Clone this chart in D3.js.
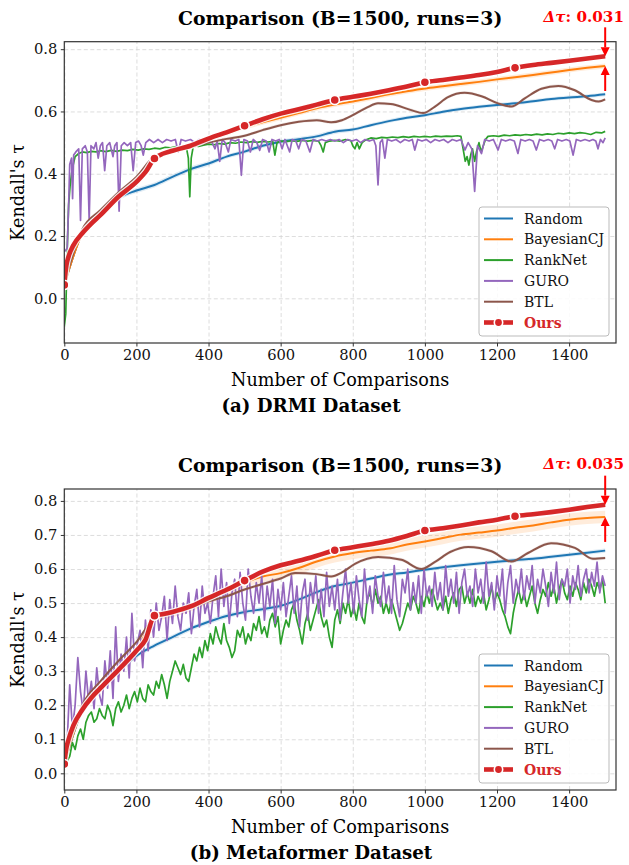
<!DOCTYPE html>
<html>
<head>
  <meta charset="utf-8">
  <script src="https://d3js.org/d3.v7.min.js"></script>
  <style>
    body { margin: 0; background: #fff; }
    text { font-family: "DejaVu Serif", serif; }
    .grid line { stroke: #d4d4d4; stroke-dasharray: 4,2.5; stroke-width: 0.8; }
    .grid .domain { stroke: none; }
    .axis .domain { stroke: none; }
    .axis line { stroke: #333; stroke-width: 1; }
    .axis text { font-size: 14.7px; fill: #111; }
  </style>
</head>
<body>
<svg id="svg" width="629" height="865"></svg>
<script>
// ---------------- data ----------------
const xTicks = [0, 200, 400, 600, 800, 1000, 1200, 1400];
const yTicksA = [0.0, 0.2, 0.4, 0.6, 0.8];
const yTicksB = [0.0, 0.1, 0.2, 0.3, 0.4, 0.5, 0.6, 0.7, 0.8];
const methods = ["Random", "BayesianCJ", "RankNet", "GURO", "BTL", "Ours"];
const markerSteps = [0, 250, 500, 750, 1000, 1250];
const titleText = "Comparison (B=1500, runs=3)";
const captions = ["(a) DRMI Dataset", "(b) Metaformer Dataset"];
const deltas = ["0.031", "0.035"];

// [comparisons, mean tau, std]
const randomA = [[0,0.043,0.01],[50,0.21,0.01],[100,0.268,0.008],[150,0.322,0.008],[200,0.346,0.008],[250,0.364,0.008],[300,0.39,0.008],[350,0.415,0.008],[400,0.433,0.008],[450,0.455,0.007],[500,0.471,0.007],[550,0.49,0.007],[600,0.503,0.007],[650,0.511,0.007],[700,0.52,0.007],[750,0.535,0.007],[800,0.542,0.006],[850,0.556,0.006],[900,0.569,0.006],[950,0.58,0.006],[1000,0.588,0.006],[1050,0.599,0.006],[1100,0.608,0.006],[1150,0.615,0.006],[1200,0.621,0.006],[1250,0.626,0.006],[1300,0.633,0.006],[1350,0.64,0.006],[1400,0.645,0.006],[1450,0.649,0.006],[1500,0.655,0.006]];
const bayesA = [[0,0.043,0.01],[50,0.209,0.01],[100,0.267,0.008],[150,0.325,0.008],[200,0.372,0.008],[250,0.445,0.008],[300,0.473,0.008],[350,0.488,0.008],[400,0.51,0.008],[450,0.53,0.008],[500,0.55,0.008],[550,0.565,0.008],[600,0.58,0.008],[650,0.595,0.008],[700,0.61,0.008],[750,0.622,0.008],[800,0.632,0.008],[850,0.643,0.008],[900,0.655,0.008],[950,0.665,0.008],[1000,0.674,0.008],[1050,0.681,0.008],[1100,0.688,0.008],[1150,0.695,0.008],[1200,0.703,0.008],[1250,0.71,0.008],[1300,0.717,0.008],[1350,0.725,0.008],[1400,0.733,0.008],[1450,0.74,0.008],[1500,0.746,0.008]];
const rankA = [[0,-0.09],[4,-0.05],[8,0.15],[12,0.3],[16,0.36],[20,0.4],[25,0.43],[30,0.455],[40,0.465],[50,0.47],[62,0.468],[75,0.472],[88,0.47],[100,0.474],[115,0.471],[130,0.475],[145,0.472],[160,0.476],[175,0.474],[190,0.478],[205,0.476],[220,0.48],[235,0.478],[250,0.482],[265,0.48],[280,0.485],[295,0.483],[310,0.487],[325,0.485],[338,0.488],[344,0.45],[348,0.326],[352,0.45],[358,0.49],[372,0.488],[386,0.492],[400,0.495],[415,0.493],[430,0.497],[445,0.495],[460,0.5],[475,0.498],[490,0.502],[505,0.5],[520,0.503],[535,0.501],[550,0.504],[565,0.502],[578,0.504],[584,0.46],[590,0.5],[600,0.505],[615,0.503],[630,0.506],[645,0.504],[660,0.507],[675,0.505],[690,0.507],[705,0.505],[712,0.49],[718,0.47],[724,0.5],[735,0.505],[750,0.507],[765,0.505],[780,0.51],[795,0.506],[800,0.49],[806,0.48],[812,0.5],[818,0.48],[826,0.5],[835,0.508],[850,0.515],[865,0.513],[880,0.517],[895,0.515],[910,0.518],[925,0.516],[940,0.519],[955,0.517],[970,0.52],[985,0.518],[1000,0.52],[1015,0.518],[1030,0.521],[1045,0.519],[1060,0.521],[1075,0.52],[1090,0.522],[1100,0.52],[1106,0.48],[1112,0.44],[1117,0.455],[1122,0.428],[1127,0.46],[1132,0.48],[1138,0.44],[1143,0.47],[1150,0.5],[1156,0.47],[1162,0.49],[1168,0.51],[1175,0.52],[1190,0.522],[1205,0.52],[1220,0.524],[1235,0.522],[1250,0.525],[1265,0.523],[1280,0.526],[1295,0.524],[1310,0.527],[1325,0.525],[1340,0.528],[1355,0.526],[1370,0.53],[1385,0.528],[1400,0.531],[1415,0.529],[1430,0.532],[1445,0.53],[1460,0.526],[1475,0.533],[1490,0.531],[1500,0.536]];
const guroA = [[0,0.15],[8,0.16],[12,0.3],[15,0.43],[20,0.45],[23,0.32],[26,0.46],[32,0.47],[40,0.48],[45,0.25],[50,0.48],[58,0.49],[64,0.47],[69,0.25],[74,0.49],[82,0.48],[88,0.5],[94,0.45],[100,0.49],[106,0.5],[112,0.41],[118,0.49],[126,0.5],[135,0.455],[140,0.49],[146,0.5],[152,0.28],[158,0.49],[166,0.5],[175,0.49],[184,0.5],[191,0.41],[198,0.5],[206,0.505],[213,0.49],[219,0.46],[226,0.5],[236,0.51],[248,0.5],[260,0.51],[272,0.5],[284,0.51],[296,0.505],[308,0.51],[316,0.47],[324,0.51],[336,0.505],[350,0.51],[362,0.5],[374,0.51],[386,0.505],[398,0.51],[410,0.5],[418,0.48],[424,0.505],[431,0.44],[438,0.51],[446,0.5],[455,0.47],[462,0.51],[474,0.505],[484,0.51],[491,0.395],[498,0.51],[508,0.505],[516,0.47],[524,0.51],[534,0.5],[542,0.475],[550,0.51],[560,0.505],[568,0.47],[576,0.51],[586,0.505],[596,0.51],[604,0.48],[612,0.51],[625,0.47],[632,0.51],[642,0.505],[650,0.48],[658,0.51],[670,0.505],[681,0.47],[690,0.51],[702,0.505],[714,0.51],[726,0.505],[738,0.51],[750,0.505],[762,0.51],[774,0.5],[786,0.51],[798,0.505],[810,0.51],[822,0.5],[834,0.51],[846,0.505],[858,0.51],[864,0.49],[870,0.364],[876,0.5],[882,0.51],[889,0.45],[896,0.51],[908,0.505],[920,0.51],[932,0.5],[944,0.51],[956,0.505],[965,0.51],[972,0.476],[980,0.51],[992,0.505],[1004,0.51],[1016,0.5],[1028,0.51],[1040,0.505],[1052,0.51],[1064,0.5],[1076,0.51],[1088,0.505],[1100,0.51],[1111,0.476],[1120,0.5],[1130,0.48],[1138,0.343],[1146,0.49],[1157,0.465],[1166,0.51],[1178,0.505],[1190,0.51],[1203,0.476],[1212,0.51],[1224,0.505],[1236,0.51],[1248,0.505],[1258,0.465],[1266,0.51],[1278,0.505],[1290,0.51],[1300,0.505],[1309,0.476],[1318,0.51],[1330,0.505],[1342,0.51],[1352,0.505],[1360,0.48],[1368,0.51],[1380,0.505],[1392,0.51],[1402,0.505],[1411,0.46],[1420,0.51],[1432,0.505],[1444,0.51],[1456,0.505],[1466,0.51],[1474,0.505],[1480,0.48],[1487,0.51],[1494,0.5],[1500,0.515]];
const btlA = [[0,0.05,0.005],[50,0.222,0.005],[100,0.283,0.005],[150,0.34,0.005],[200,0.39,0.005],[250,0.455,0.005],[300,0.47,0.005],[350,0.485,0.005],[400,0.5,0.005],[450,0.512,0.005],[500,0.522,0.005],[550,0.54,0.005],[600,0.556,0.005],[650,0.567,0.005],[700,0.572,0.005],[740,0.565,0.005],[770,0.572,0.005],[800,0.588,0.005],[840,0.613,0.005],[870,0.626,0.005],[905,0.624,0.005],[960,0.605,0.005],[995,0.595,0.005],[1027,0.615,0.005],[1064,0.646,0.005],[1110,0.66,0.005],[1157,0.649,0.005],[1203,0.626,0.005],[1240,0.616,0.005],[1277,0.642,0.005],[1323,0.673,0.005],[1370,0.682,0.005],[1416,0.668,0.005],[1462,0.637,0.005],[1482,0.632,0.005],[1500,0.639,0.005]];
const oursA = [[0,0.043,0.008],[5,0.1,0.01],[12,0.135,0.01],[25,0.17,0.01],[50,0.209,0.01],[75,0.24,0.008],[100,0.267,0.008],[150,0.326,0.008],[200,0.374,0.008],[225,0.405,0.008],[250,0.449,0.008],[275,0.465,0.008],[300,0.474,0.008],[350,0.49,0.008],[400,0.513,0.008],[450,0.533,0.008],[500,0.554,0.008],[550,0.575,0.008],[600,0.593,0.008],[650,0.607,0.008],[700,0.622,0.008],[750,0.637,0.008],[800,0.647,0.007],[850,0.657,0.007],[900,0.668,0.007],[950,0.68,0.007],[1000,0.694,0.007],[1050,0.701,0.007],[1100,0.709,0.007],[1150,0.717,0.007],[1200,0.727,0.007],[1250,0.74,0.007],[1300,0.749,0.007],[1350,0.756,0.007],[1400,0.763,0.007],[1450,0.77,0.007],[1500,0.777,0.007]];

const randomB = [[0,0.027,0.008],[50,0.185,0.008],[100,0.248,0.008],[150,0.3,0.008],[200,0.345,0.007],[250,0.375,0.007],[300,0.4,0.007],[350,0.425,0.007],[400,0.445,0.007],[450,0.462,0.007],[500,0.474,0.007],[550,0.482,0.007],[600,0.492,0.007],[650,0.51,0.007],[700,0.532,0.007],[750,0.55,0.007],[800,0.56,0.006],[850,0.572,0.006],[900,0.583,0.006],[950,0.59,0.006],[1000,0.598,0.006],[1050,0.605,0.006],[1100,0.611,0.006],[1150,0.616,0.006],[1200,0.621,0.006],[1250,0.626,0.006],[1300,0.63,0.006],[1350,0.636,0.006],[1400,0.642,0.006],[1450,0.648,0.006],[1500,0.654,0.006]];
const bayesB = [[0,0.027,0.01],[50,0.187,0.012],[100,0.25,0.012],[150,0.304,0.012],[200,0.358,0.012],[250,0.455,0.012],[300,0.47,0.012],[350,0.487,0.012],[400,0.51,0.012],[450,0.535,0.012],[500,0.56,0.014],[550,0.578,0.016],[600,0.588,0.016],[650,0.603,0.018],[700,0.622,0.018],[750,0.637,0.018],[800,0.647,0.018],[850,0.654,0.018],[900,0.66,0.018],[950,0.672,0.018],[1000,0.681,0.018],[1050,0.691,0.018],[1100,0.701,0.018],[1150,0.707,0.018],[1200,0.713,0.018],[1250,0.721,0.018],[1300,0.728,0.018],[1350,0.737,0.018],[1400,0.745,0.018],[1450,0.75,0.018],[1500,0.753,0.018]];
// noisy series of panel (b), one value every 7.5 comparisons from 0 to 1500
const stepsB = d3.range(0, 1500.1, 7.5);
const rankB = [
  0.03,0.035,0.05,0.09,0.07,0.11,0.13,0.1,0.15,0.17,
  0.18,0.15,0.16,0.19,0.17,0.16,0.2,0.18,0.14,0.19,
  0.21,0.18,0.2,0.23,0.19,0.22,0.24,0.21,0.25,0.22,
  0.21,0.26,0.24,0.23,0.27,0.25,0.29,0.26,0.22,0.27,
  0.3,0.33,0.31,0.29,0.32,0.28,0.27,0.31,0.35,0.33,
  0.37,0.34,0.39,0.36,0.41,0.38,0.43,0.4,0.38,0.44,
  0.39,0.37,0.34,0.36,0.42,0.4,0.43,0.38,0.41,0.39,
  0.44,0.42,0.46,0.41,0.43,0.4,0.45,0.47,0.43,0.46,
  0.38,0.42,0.45,0.43,0.48,0.5,0.45,0.42,0.38,0.44,
  0.47,0.42,0.45,0.48,0.51,0.46,0.43,0.45,0.4,0.37,
  0.45,0.48,0.44,0.5,0.47,0.51,0.46,0.49,0.45,0.5,
  0.46,0.44,0.51,0.53,0.49,0.54,0.5,0.52,0.47,0.5,
  0.47,0.51,0.48,0.45,0.42,0.44,0.47,0.5,0.48,0.52,
  0.5,0.47,0.52,0.49,0.53,0.5,0.54,0.51,0.48,0.5,
  0.48,0.52,0.47,0.51,0.53,0.49,0.54,0.55,0.5,0.53,
  0.5,0.54,0.49,0.52,0.5,0.53,0.48,0.51,0.55,0.5,
  0.53,0.51,0.48,0.46,0.43,0.41,0.47,0.51,0.54,0.5,
  0.53,0.49,0.52,0.55,0.5,0.47,0.51,0.54,0.52,0.56,
  0.52,0.55,0.5,0.54,0.57,0.53,0.51,0.55,0.52,0.56,
  0.54,0.51,0.56,0.53,0.57,0.55,0.52,0.56,0.54,0.57,
  0.5];
const guroB = [
  0.04,0.08,0.26,0.13,0.2,0.34,0.24,0.18,0.3,0.21,
  0.27,0.19,0.31,0.23,0.2,0.33,0.25,0.36,0.22,0.43,
  0.27,0.35,0.3,0.4,0.28,0.47,0.33,0.38,0.42,0.31,
  0.45,0.36,0.48,0.4,0.5,0.42,0.46,0.52,0.39,0.51,
  0.44,0.55,0.46,0.42,0.5,0.47,0.53,0.41,0.49,0.54,
  0.43,0.55,0.47,0.5,0.44,0.52,0.58,0.46,0.6,0.49,
  0.56,0.44,0.53,0.57,0.46,0.59,0.5,0.45,0.6,0.52,
  0.47,0.56,0.5,0.58,0.45,0.55,0.49,0.57,0.44,0.54,
  0.48,0.56,0.46,0.52,0.58,0.47,0.55,0.43,0.53,0.57,
  0.45,0.56,0.5,0.58,0.47,0.54,0.46,0.59,0.49,0.55,
  0.48,0.57,0.45,0.53,0.6,0.5,0.56,0.47,0.58,0.51,
  0.46,0.6,0.5,0.55,0.47,0.58,0.52,0.49,0.59,0.5,
  0.55,0.47,0.61,0.51,0.46,0.57,0.53,0.6,0.48,0.56,
  0.5,0.58,0.47,0.6,0.52,0.55,0.49,0.59,0.51,0.56,
  0.48,0.61,0.52,0.57,0.5,0.59,0.47,0.56,0.6,0.52,
  0.55,0.49,0.6,0.53,0.57,0.5,0.62,0.52,0.56,0.48,
  0.58,0.52,0.6,0.47,0.56,0.61,0.5,0.57,0.53,0.6,
  0.51,0.58,0.54,0.61,0.5,0.57,0.53,0.6,0.55,0.49,
  0.59,0.53,0.62,0.51,0.57,0.55,0.6,0.5,0.58,0.54,
  0.61,0.52,0.57,0.6,0.53,0.59,0.55,0.62,0.53,0.58,
  0.55];
const btlB = [[0,0.03,0.005],[50,0.2,0.005],[100,0.27,0.005],[150,0.33,0.005],[200,0.385,0.005],[250,0.455,0.005],[300,0.47,0.005],[350,0.485,0.005],[400,0.505,0.005],[450,0.52,0.005],[500,0.54,0.005],[550,0.556,0.005],[600,0.572,0.005],[640,0.588,0.005],[700,0.585,0.005],[740,0.578,0.005],[770,0.59,0.005],[806,0.615,0.005],[870,0.635,0.005],[935,0.627,0.005],[990,0.6,0.005],[1027,0.62,0.005],[1070,0.65,0.005],[1120,0.665,0.005],[1185,0.652,0.005],[1240,0.622,0.005],[1286,0.647,0.005],[1350,0.676,0.005],[1416,0.662,0.005],[1466,0.63,0.005],[1500,0.632,0.005]];
const oursB = [[0,0.027,0.008],[5,0.07,0.01],[12,0.1,0.01],[25,0.14,0.01],[50,0.187,0.01],[75,0.222,0.008],[100,0.25,0.008],[150,0.304,0.008],[200,0.36,0.008],[225,0.392,0.008],[250,0.463,0.008],[275,0.468,0.008],[300,0.474,0.008],[350,0.49,0.008],[400,0.515,0.008],[450,0.539,0.008],[500,0.566,0.008],[550,0.592,0.008],[600,0.611,0.008],[650,0.624,0.008],[700,0.639,0.008],[750,0.655,0.008],[800,0.664,0.008],[850,0.673,0.008],[900,0.683,0.008],[950,0.697,0.008],[1000,0.713,0.008],[1050,0.72,0.008],[1100,0.728,0.008],[1150,0.737,0.008],[1200,0.745,0.008],[1250,0.755,0.008],[1300,0.761,0.008],[1350,0.767,0.008],[1400,0.774,0.008],[1450,0.782,0.008],[1500,0.789,0.008]];

// ---------------- layout ----------------
const svg = d3.select("#svg");
svg.append("rect").attr("width", 629).attr("height", 865).attr("fill", "#fff");

const plotLeft = 64.3, plotRight = 616;
const colors = ["#1f77b4", "#ff7f0e", "#2ca02c", "#9467bd", "#8c564b", "#d62728"];
const noisy = [false, false, true, true, false, false];

const xScale = d3.scaleLinear().domain([0, 1530]).range([plotLeft, plotRight]);

const zipB = vals => vals.map((v, i) => [stepsB[i], v]);

const panels = [
  { top: 41.7, bottom: 343, yDomain: [-0.1435, 0.824], yTicks: yTicksA,
    series: [randomA, bayesA, rankA, guroA, btlA, oursA] },
  { top: 489, bottom: 790, yDomain: [-0.049, 0.835], yTicks: yTicksB,
    series: [randomB, bayesB, zipB(rankB), zipB(guroB), btlB, oursB] }
];

function arrow(g, x, yFrom, yTo) {
  const dir = yTo > yFrom ? 1 : -1;
  const head = 9;
  g.append("line").attr("x1", x).attr("x2", x)
    .attr("y1", yFrom).attr("y2", yTo - dir * head)
    .attr("stroke", "red").attr("stroke-width", 2);
  g.append("path")
    .attr("d", `M${x},${yTo} L${x - 4.5},${yTo - dir * head} L${x + 4.5},${yTo - dir * head} Z`)
    .attr("fill", "red");
}

panels.forEach((p, idx) => {
  const y = d3.scaleLinear().domain(p.yDomain).range([p.bottom, p.top]);
  const g = svg.append("g");
  const width = plotRight - plotLeft, height = p.bottom - p.top;

  svg.append("clipPath").attr("id", "clip" + idx)
    .append("rect").attr("x", plotLeft).attr("y", p.top)
    .attr("width", width).attr("height", height);

  // gridlines
  g.append("g").attr("class", "grid")
    .attr("transform", `translate(${plotLeft},0)`)
    .call(d3.axisLeft(y).tickValues(p.yTicks).tickSize(-width).tickFormat(""));
  g.append("g").attr("class", "grid")
    .attr("transform", `translate(0,${p.bottom})`)
    .call(d3.axisBottom(xScale).tickValues(xTicks).tickSize(-height).tickFormat(""));

  const plot = g.append("g").attr("clip-path", `url(#clip${idx})`);

  const area = d3.area()
    .x(d => xScale(d[0]))
    .y0(d => y(d[1] - d[2]))
    .y1(d => y(d[1] + d[2]))
    .curve(d3.curveMonotoneX);

  // std bands
  p.series.forEach((s, i) => {
    if (s[0].length < 3) return;
    plot.append("path").attr("d", area(s))
      .attr("fill", colors[i]).attr("opacity", i === 5 ? 0.2 : 0.15);
  });

  // mean lines
  p.series.forEach((s, i) => {
    const line = d3.line()
      .x(d => xScale(d[0]))
      .y(d => y(d[1]))
      .curve(noisy[i] ? d3.curveLinear : d3.curveMonotoneX);
    if (i === 5) {
      plot.append("path").attr("d", line(s)).attr("fill", "none")
        .attr("stroke", "#fff").attr("stroke-width", 7).attr("stroke-opacity", 0.85)
        .attr("stroke-linejoin", "round");
      plot.append("path").attr("d", line(s)).attr("fill", "none")
        .attr("stroke", colors[i]).attr("stroke-width", 4.6)
        .attr("stroke-linejoin", "round");
      const marks = markerSteps.map(m => s.find(d => d[0] === m));
      plot.selectAll("circle.mk").data(marks).join("circle")
        .attr("class", "mk")
        .attr("cx", d => xScale(d[0])).attr("cy", d => y(d[1]))
        .attr("r", 4.6).attr("fill", colors[i])
        .attr("stroke", "#fff").attr("stroke-width", 1.6);
    } else {
      plot.append("path").attr("d", line(s)).attr("fill", "none")
        .attr("stroke", colors[i]).attr("stroke-width", noisy[i] ? 1.7 : 2)
        .attr("stroke-linejoin", "round");
    }
  });

  // spines
  g.append("rect").attr("x", plotLeft).attr("y", p.top)
    .attr("width", width).attr("height", height)
    .attr("fill", "none").attr("stroke", "#333").attr("stroke-width", 1.2);

  // axes
  g.append("g").attr("class", "axis")
    .attr("transform", `translate(${plotLeft},0)`)
    .call(d3.axisLeft(y).tickValues(p.yTicks).tickFormat(d3.format(".1f"))
      .tickSize(3.5).tickPadding(3.5));
  g.append("g").attr("class", "axis")
    .attr("transform", `translate(0,${p.bottom})`)
    .call(d3.axisBottom(xScale).tickValues(xTicks).tickFormat(d3.format("d"))
      .tickSize(3.5).tickPadding(3.5));

  // labels
  g.append("text").attr("x", (plotLeft + plotRight) / 2).attr("y", p.bottom + 43)
    .attr("text-anchor", "middle").attr("font-size", 17.6)
    .text("Number of Comparisons");
  g.append("text")
    .attr("transform", `translate(24,${(p.top + p.bottom) / 2}) rotate(-90)`)
    .attr("text-anchor", "middle").attr("font-size", 17.6)
    .text("Kendall's τ");
  g.append("text").attr("x", (plotLeft + plotRight) / 2).attr("y", p.top - 17)
    .attr("text-anchor", "middle").attr("font-size", 18.8).attr("font-weight", "bold")
    .text(titleText);
  g.append("text").attr("x", 311).attr("y", p.bottom + 69)
    .attr("text-anchor", "middle").attr("font-size", 18.2).attr("font-weight", "bold")
    .text(captions[idx]);

  // delta annotation
  const ours = p.series[5], bayes = p.series[1];
  const xEnd = xScale(ours[ours.length - 1][0]);
  const yOurs = y(ours[ours.length - 1][1]);
  const yBayes = y(bayes[bayes.length - 1][1]);
  arrow(g, xEnd, yOurs - 29, yOurs);
  arrow(g, xEnd, yBayes + 25, yBayes);
  const dt = g.append("text").attr("x", 624).attr("y", p.top - 20)
    .attr("text-anchor", "end").attr("font-size", 15.2).attr("font-weight", "bold")
    .attr("fill", "red");
  dt.append("tspan").attr("font-style", "italic").text("Δτ");
  dt.append("tspan").text(": " + deltas[idx]);

  // legend
  const lgW = 130, lgH = 129;
  const lx = plotRight - 7 - lgW, ly = p.bottom - 7 - lgH;
  const lg = g.append("g");
  lg.append("rect").attr("x", lx).attr("y", ly).attr("width", lgW).attr("height", lgH)
    .attr("rx", 3).attr("fill", "#fff").attr("fill-opacity", 0.85)
    .attr("stroke", "#bbb").attr("stroke-width", 1);
  methods.forEach((m, i) => {
    const ry = ly + 11.5 + i * 20.8;
    lg.append("line").attr("x1", lx + 5).attr("x2", lx + 34)
      .attr("y1", ry).attr("y2", ry)
      .attr("stroke", colors[i]).attr("stroke-width", i === 5 ? 4.6 : 2);
    if (i === 5) {
      lg.append("circle").attr("cx", lx + 19.5).attr("cy", ry).attr("r", 4.2)
        .attr("fill", colors[i]).attr("stroke", "#fff").attr("stroke-width", 1.6);
    }
    lg.append("text").attr("x", lx + 45).attr("y", ry + 5)
      .attr("font-size", 14)
      .attr("font-weight", i === 5 ? "bold" : "normal")
      .attr("fill", i === 5 ? colors[5] : "#111")
      .text(m);
  });
});
</script>
</body>
</html>
